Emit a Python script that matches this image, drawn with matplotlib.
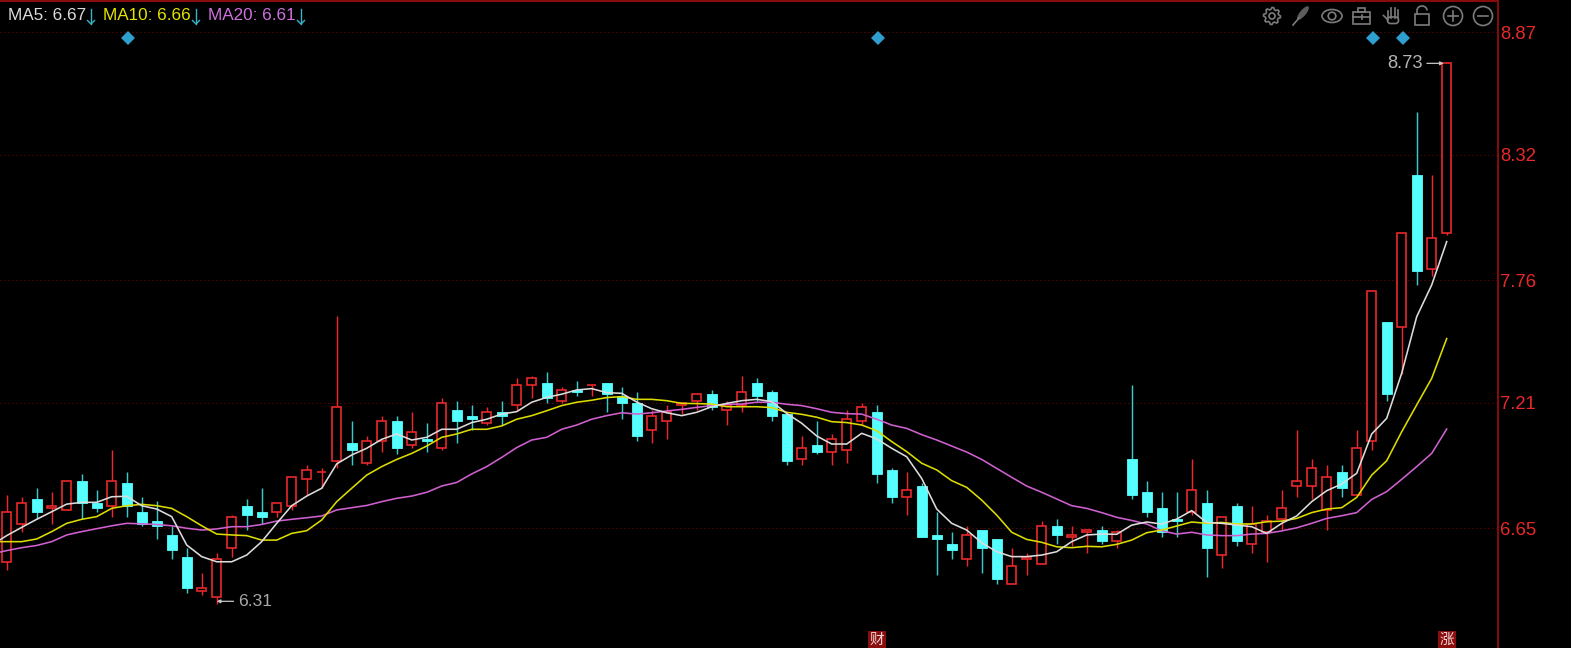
import numpy as np
import matplotlib
matplotlib.use('Agg')
import matplotlib.pyplot as plt
from matplotlib.patches import Circle, Ellipse, Rectangle, Arc, Polygon, FancyBboxPatch

plt.rcParams['font.family'] = ['Liberation Sans', 'Noto Sans CJK SC', 'DejaVu Sans']

opens = [6.50, 6.67, 6.78, 6.74, 6.73, 6.86, 6.76, 6.75, 6.85, 6.72,
         6.68, 6.62, 6.52, 6.37, 6.34, 6.56, 6.75, 6.72, 6.72, 6.75,
         6.87, 6.90, 6.95, 7.03, 6.94, 7.04, 7.13, 7.02, 7.05, 7.01,
         7.18, 7.15, 7.12, 7.17, 7.20, 7.29, 7.30, 7.22, 7.27, 7.29,
         7.30, 7.24, 7.21, 7.09, 7.13, 7.20, 7.22, 7.25, 7.18, 7.20,
         7.30, 7.26, 7.16, 6.96, 7.02, 6.99, 7.00, 7.13, 7.17, 6.91,
         6.79, 6.84, 6.62, 6.58, 6.51, 6.64, 6.60, 6.40, 6.51, 6.49,
         6.66, 6.61, 6.63, 6.64, 6.59, 6.96, 6.81, 6.74, 6.69, 6.72,
         6.76, 6.53, 6.75, 6.58, 6.63, 6.69, 6.84, 6.84, 6.73, 6.90,
         6.80, 7.04, 7.57, 7.55, 8.23, 7.81, 7.97]
closes = [6.72, 6.76, 6.72, 6.75, 6.86, 6.76, 6.74, 6.86, 6.75, 6.67,
          6.66, 6.55, 6.38, 6.38, 6.51, 6.70, 6.71, 6.70, 6.76, 6.88,
          6.91, 6.90, 7.19, 7.00, 7.04, 7.13, 7.01, 7.08, 7.04, 7.21,
          7.13, 7.14, 7.17, 7.15, 7.29, 7.32, 7.23, 7.27, 7.26, 7.29,
          7.25, 7.21, 7.06, 7.15, 7.17, 7.21, 7.25, 7.19, 7.20, 7.26,
          7.24, 7.15, 6.95, 7.01, 6.99, 7.05, 7.14, 7.19, 6.89, 6.79,
          6.82, 6.61, 6.60, 6.55, 6.62, 6.56, 6.42, 6.48, 6.52, 6.66,
          6.62, 6.62, 6.64, 6.59, 6.63, 6.80, 6.72, 6.63, 6.68, 6.82,
          6.56, 6.70, 6.59, 6.67, 6.68, 6.74, 6.86, 6.92, 6.88, 6.83,
          7.01, 7.71, 7.25, 7.97, 7.80, 7.95, 8.73]
highs = [6.80, 6.79, 6.83, 6.81, 6.86, 6.89, 6.82, 7.00, 6.90, 6.79,
         6.77, 6.66, 6.56, 6.45, 6.54, 6.71, 6.78, 6.83, 6.76, 6.88,
         6.93, 6.92, 7.60, 7.13, 7.06, 7.15, 7.15, 7.17, 7.12, 7.23,
         7.22, 7.20, 7.19, 7.22, 7.32, 7.33, 7.35, 7.28, 7.31, 7.29,
         7.30, 7.28, 7.26, 7.18, 7.20, 7.21, 7.25, 7.27, 7.22, 7.33,
         7.32, 7.27, 7.16, 7.06, 7.13, 7.07, 7.18, 7.21, 7.20, 6.92,
         6.90, 6.85, 6.72, 6.63, 6.66, 6.64, 6.60, 6.56, 6.54, 6.68,
         6.69, 6.66, 6.64, 6.66, 6.64, 7.29, 6.86, 6.81, 6.81, 6.96,
         6.82, 6.70, 6.76, 6.75, 6.71, 6.82, 7.09, 6.96, 6.93, 6.93,
         7.09, 7.71, 7.57, 7.97, 8.51, 8.23, 8.73]
lows = [6.46, 6.63, 6.69, 6.67, 6.73, 6.69, 6.72, 6.70, 6.70, 6.66,
        6.60, 6.51, 6.36, 6.35, 6.31, 6.52, 6.64, 6.67, 6.70, 6.73,
        6.80, 6.83, 6.92, 6.93, 6.93, 6.99, 6.98, 7.01, 6.99, 7.00,
        7.03, 7.09, 7.11, 7.11, 7.18, 7.23, 7.21, 7.21, 7.24, 7.24,
        7.17, 7.14, 7.04, 7.03, 7.05, 7.16, 7.18, 7.18, 7.11, 7.17,
        7.22, 7.13, 6.93, 6.93, 6.98, 6.93, 6.94, 7.11, 6.85, 6.76,
        6.71, 6.61, 6.44, 6.51, 6.48, 6.45, 6.40, 6.40, 6.44, 6.49,
        6.58, 6.57, 6.54, 6.58, 6.56, 6.78, 6.70, 6.61, 6.61, 6.71,
        6.43, 6.47, 6.57, 6.54, 6.50, 6.64, 6.79, 6.78, 6.64, 6.79,
        6.80, 7.00, 7.22, 7.34, 7.74, 7.78, 7.96]

# moving averages, first point is the bar just off the left edge
ma5 = [6.574, 6.616, 6.653, 6.689, 6.723, 6.757, 6.765, 6.765, 6.790, 6.792, 6.750,
       6.735, 6.701, 6.574, 6.522, 6.499, 6.499, 6.529, 6.589, 6.671, 6.750,
       6.793, 6.828, 6.937, 6.977, 7.007, 7.047, 7.071, 7.044, 7.056, 7.092,
       7.092, 7.122, 7.137, 7.160, 7.171, 7.213, 7.235, 7.249, 7.268, 7.274,
       7.256, 7.253, 7.214, 7.184, 7.166, 7.153, 7.168, 7.193, 7.208, 7.220,
       7.226, 7.216, 7.163, 7.119, 7.062, 7.026, 7.026, 7.074, 7.049, 7.007,
       6.969, 6.872, 6.735, 6.671, 6.641, 6.584, 6.544, 6.522, 6.522, 6.529,
       6.544, 6.589, 6.619, 6.623, 6.622, 6.663, 6.677, 6.668, 6.690, 6.728,
       6.675, 6.671, 6.663, 6.656, 6.626, 6.671, 6.704, 6.768, 6.817, 6.847,
       6.895, 7.071, 7.141, 7.343, 7.596, 7.738, 7.932]
ma10 = [6.589, 6.589, 6.589, 6.601, 6.634, 6.671, 6.689, 6.701, 6.738, 6.750, 6.756,
        6.750, 6.738, 6.701, 6.660, 6.623, 6.619, 6.616, 6.596, 6.596, 6.626,
        6.638, 6.686, 6.768, 6.828, 6.887, 6.925, 6.957, 6.984, 7.017, 7.056,
        7.071, 7.092, 7.092, 7.107, 7.137, 7.153, 7.175, 7.198, 7.213, 7.222,
        7.234, 7.238, 7.226, 7.226, 7.220, 7.208, 7.207, 7.205, 7.193, 7.193,
        7.193, 7.189, 7.168, 7.159, 7.146, 7.126, 7.122, 7.111, 7.086, 7.037,
        6.992, 6.940, 6.910, 6.862, 6.832, 6.775, 6.708, 6.631, 6.599, 6.586,
        6.566, 6.562, 6.568, 6.566, 6.577, 6.596, 6.629, 6.641, 6.659, 6.677,
        6.671, 6.675, 6.668, 6.668, 6.678, 6.681, 6.693, 6.719, 6.735, 6.741,
        6.787, 6.887, 6.951, 7.081, 7.201, 7.320, 7.498]
ma20 = [6.534, 6.549, 6.562, 6.572, 6.589, 6.619, 6.634, 6.647, 6.660, 6.671, 6.669,
        6.666, 6.660, 6.649, 6.641, 6.646, 6.656, 6.656, 6.666, 6.681, 6.689,
        6.696, 6.704, 6.731, 6.741, 6.751, 6.768, 6.783, 6.793, 6.810, 6.838,
        6.854, 6.892, 6.925, 6.966, 7.010, 7.044, 7.056, 7.092, 7.111, 7.137,
        7.153, 7.166, 7.160, 7.166, 7.174, 7.181, 7.190, 7.198, 7.204, 7.205,
        7.213, 7.213, 7.204, 7.198, 7.184, 7.168, 7.162, 7.160, 7.137, 7.111,
        7.096, 7.068, 7.044, 7.017, 6.990, 6.957, 6.917, 6.877, 6.838, 6.810,
        6.780, 6.750, 6.738, 6.719, 6.698, 6.684, 6.668, 6.638, 6.623, 6.631,
        6.619, 6.616, 6.616, 6.623, 6.626, 6.637, 6.651, 6.671, 6.693, 6.705,
        6.719, 6.778, 6.813, 6.868, 6.925, 6.984, 7.093]

price_ticks = [8.87, 8.32, 7.76, 7.21, 6.65]
ma_labels = ['MA5: 6.67', 'MA10: 6.66', 'MA20: 6.61']
event_bars = [8, 58, 91, 93]
badges = {58: '财', 96: '涨'}

RED = '#e8282a'
CYAN = '#55ffff'
WICK_CYAN = '#3cc8c8'
DARK_RED = '#7c0a0a'
ICON = '#7c7c7c'

fig = plt.figure(figsize=(15.71, 6.48), dpi=100, facecolor='black')
ax = fig.add_axes([0, 0, 1498 / 1571, 1 - 1 / 648], facecolor='black')
ax.set_xlim(-0.447, 99.42)
ax.set_ylim(6.113, 9.009)

o, c, h, l = map(np.array, (opens, closes, highs, lows))
x = np.arange(len(o))
up = c >= o
top = np.maximum(o, c)
bot = np.minimum(o, c)

ax.vlines(x[up], l[up], h[up], color=RED, lw=1.05, zorder=2)
ax.vlines(x[~up], l[~up], h[~up], color=WICK_CYAN, lw=1.05, zorder=2)
ax.bar(x[up], (top - bot)[up], bottom=bot[up], width=0.63, facecolor='black', edgecolor=RED, lw=1.2, zorder=3)
ax.bar(x[~up], (top - bot)[~up], bottom=bot[~up], width=0.66, facecolor=CYAN, edgecolor=CYAN, lw=0.6, zorder=3)

x_ma = np.arange(-1, len(o))
ax.plot(x_ma, ma20, color='#d060d0', lw=1.15, zorder=4)
ax.plot(x_ma, ma10, color='#dcdc00', lw=1.15, zorder=5)
ax.plot(x_ma, ma5, color='#dcdcdc', lw=1.15, zorder=6)

ax.set_yticks(price_ticks)
ax.set_yticklabels([f'{v:.2f}' for v in price_ticks], color=RED, fontsize=13.3, va='center_baseline')
ax.yaxis.tick_right()
ax.tick_params(axis='y', length=0, pad=1.5)
ax.set_xticks([])
ax.grid(axis='y', color=DARK_RED, lw=0.72, ls=(0, (1, 3)), zorder=1)
for side in ('left', 'bottom'):
    ax.spines[side].set_visible(False)
for side in ('top', 'right'):
    ax.spines[side].set_color('#860c0c')
    ax.spines[side].set_linewidth(1.4)

ax.plot(np.array(event_bars) + 0.09, [8.845] * len(event_bars), ls='none', marker='D', ms=7.6,
        color='#2f9fd0', mew=0, zorder=7)

# high and low tags
arrow = dict(arrowstyle='-|>', color='#c8c8c8', lw=0.9, mutation_scale=5, shrinkA=1, shrinkB=0)
i_low = int(np.argmin(l))
ax.annotate(f'{l[i_low]:.2f}', xy=(i_low, l[i_low] + 0.012), xytext=(21, 0), textcoords='offset pixels',
            color='#a8a8a8', fontsize=12.6, ha='left', va='center', arrowprops=arrow, zorder=8)
i_high = int(np.argmax(h))
ax.annotate(f'{h[i_high]:.2f}', xy=(i_high - 0.2, h[i_high]), xytext=(-21, 0), textcoords='offset pixels',
            color='#b4b4b4', fontsize=13.2, ha='right', va='center', arrowprops=arrow, zorder=8)

# overlay in screen pixels for the legend, toolbar and badges
ov = fig.add_axes([0, 0, 1, 1], facecolor='none')
ov.set_xlim(0, 1571)
ov.set_ylim(648, 0)
ov.axis('off')
ov.plot([0, 1498], [0.9, 0.9], color='#860c0c', lw=1.5)

for label, col, tx, ax_x in zip(ma_labels, ['#dcdcdc', '#e4e400', '#d070e0'], [8, 103, 208], [91, 196, 301]):
    ov.text(tx, 15, label, color=col, fontsize=12.3, ha='left', va='center')
    ov.plot([ax_x, ax_x], [9, 24], color='#35b4c8', lw=1.0)
    ov.plot([ax_x - 3.5, ax_x, ax_x + 3.5], [20.5, 24, 20.5], color='#35b4c8', lw=1.0)

for bar, ch in badges.items():
    cx = bar * 15 + 6.7 + 0.3
    ov.add_patch(Rectangle((cx - 9, 631), 18, 17, color='#8a0e0e', lw=0))
    ov.text(cx, 639.5, ch, color='#f0d8d8', fontsize=10.5, ha='center', va='center', family='Noto Sans CJK SC')

lw_i = 1.2
def ring(cx, r, **kw):
    ov.add_patch(Circle((cx, 16), r, fill=False, ec=ICON, lw=lw_i, **kw))

# gear
angles = np.linspace(0, 2 * np.pi, 33)
radii = np.where(np.arange(33) % 4 < 2, 8.5, 6.6)
ov.add_patch(Polygon(np.c_[1272 + radii * np.cos(angles), 16 + radii * np.sin(angles)], closed=True, fill=False, ec=ICON, lw=lw_i))
ring(1272, 3)
# feather
ov.add_patch(Ellipse((1303, 13), 6, 17, angle=40, color=ICON, alpha=0.75, lw=0))
ov.plot([1293, 1299], [25, 18], color=ICON, lw=1.2)
# eye
ov.add_patch(Ellipse((1332, 16), 20, 13, fill=False, ec=ICON, lw=lw_i))
ring(1332, 3.8)
# toolbox
ov.add_patch(Rectangle((1353.5, 12), 17, 12, fill=False, ec=ICON, lw=lw_i))
ov.add_patch(Rectangle((1358.5, 8), 7, 4, fill=False, ec=ICON, lw=lw_i))
ov.plot([1353.5, 1370.5], [16.5, 16.5], color=ICON, lw=lw_i)
ov.plot([1362, 1362], [15, 18.5], color=ICON, lw=lw_i)
# hand
for fx, ft in zip([1388, 1391.5, 1395, 1398.5], [11, 7.5, 8, 10]):
    ov.plot([fx, fx], [ft, 18], color=ICON, lw=1.2)
ov.add_patch(FancyBboxPatch((1387.5, 17), 11, 6.5, boxstyle='round,pad=0,rounding_size=3', fill=False, ec=ICON, lw=lw_i))
ov.plot([1388, 1383.5], [20, 15.5], color=ICON, lw=1.2)
# lock
ov.add_patch(Rectangle((1415, 14), 14, 10.5, fill=False, ec=ICON, lw=lw_i))
ov.add_patch(Arc((1422, 10.5), 10, 9, theta1=180, theta2=360, ec=ICON, lw=lw_i))
ov.plot([1417, 1417], [10.5, 14], color=ICON, lw=lw_i)
# zoom buttons
for cx in (1453, 1483):
    ring(cx, 9.5)
    ov.plot([cx - 5, cx + 5], [16, 16], color=ICON, lw=lw_i)
ov.plot([1453, 1453], [11, 21], color=ICON, lw=lw_i)

fig.savefig('out.png', dpi=100, facecolor='black')
